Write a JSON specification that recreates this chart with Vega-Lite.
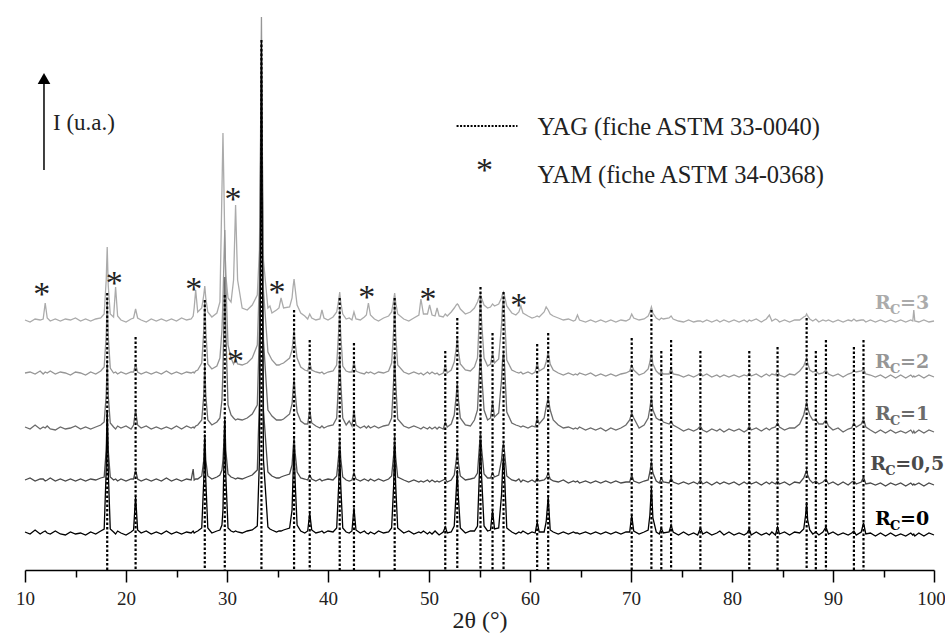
{
"$schema":"https://vega.github.io/schema/vega-lite/v6.json",
"width":909,"height":570,"autosize":"none",
"padding":{"left":25,"top":0,"right":11,"bottom":67},
"config":{"view":{"stroke":null},"font":"Liberation Serif"},
"datasets":{
"spectra":[
{"x":10,"a":38,"b":90,"c":143,"d":197,"e":250},
{"x":10.5,"a":36,"b":92,"c":141,"d":198,"e":248},
{"x":11,"a":40,"b":89,"c":145,"d":196,"e":251},
{"x":11.5,"a":36,"b":91,"c":141,"d":199,"e":250},
{"x":11.8,"a":38,"b":91,"c":143,"d":196,"e":251},
{"x":12,"a":39,"b":89,"c":142,"d":198,"e":267},
{"x":12.2,"a":37,"b":90,"c":144,"d":197,"e":252},
{"x":12.5,"a":36,"b":92,"c":141,"d":199,"e":249},
{"x":13,"a":39,"b":89,"c":140,"d":196,"e":251},
{"x":13.5,"a":36,"b":91,"c":143,"d":198,"e":249},
{"x":14,"a":35,"b":89,"c":141,"d":197,"e":251},
{"x":14.5,"a":38,"b":91,"c":142,"d":195,"e":250},
{"x":15,"a":36,"b":89,"c":144,"d":198,"e":252},
{"x":15.5,"a":37,"b":91,"c":141,"d":197,"e":249},
{"x":16,"a":35,"b":89,"c":143,"d":195,"e":251},
{"x":16.5,"a":38,"b":91,"c":141,"d":198,"e":249},
{"x":17,"a":36,"b":90,"c":143,"d":196,"e":251},
{"x":17.5,"a":39,"b":92,"c":145,"d":199,"e":252},
{"x":17.84,"a":41,"b":93,"c":148,"d":203,"e":256},
{"x":18.04,"a":100,"b":120,"c":175,"d":235,"e":290},
{"x":18.14,"a":160,"b":160,"c":210,"d":270,"e":323},
{"x":18.24,"a":100,"b":120,"c":175,"d":235,"e":285},
{"x":18.44,"a":41,"b":93,"c":147,"d":202,"e":256},
{"x":18.77,"a":38,"b":90,"c":143,"d":197,"e":253},
{"x":18.97,"a":36,"b":91,"c":141,"d":198,"e":283},
{"x":19.17,"a":39,"b":89,"c":144,"d":196,"e":254},
{"x":19.5,"a":37,"b":91,"c":142,"d":198,"e":250},
{"x":20,"a":35,"b":89,"c":144,"d":196,"e":248},
{"x":20.5,"a":38,"b":91,"c":141,"d":198,"e":251},
{"x":20.75,"a":40,"b":91,"c":145,"d":198,"e":252},
{"x":20.95,"a":74,"b":100,"c":160,"d":206,"e":261},
{"x":21.15,"a":40,"b":91,"c":145,"d":198,"e":252},
{"x":21.5,"a":37,"b":89,"c":142,"d":196,"e":250},
{"x":22,"a":39,"b":91,"c":144,"d":198,"e":248},
{"x":22.5,"a":36,"b":89,"c":141,"d":196,"e":251},
{"x":23,"a":38,"b":91,"c":143,"d":198,"e":249},
{"x":23.5,"a":36,"b":89,"c":141,"d":196,"e":251},
{"x":24,"a":39,"b":92,"c":143,"d":199,"e":249},
{"x":24.5,"a":36,"b":89,"c":141,"d":196,"e":251},
{"x":25,"a":38,"b":91,"c":144,"d":198,"e":249},
{"x":25.5,"a":36,"b":89,"c":141,"d":196,"e":252},
{"x":26,"a":38,"b":91,"c":144,"d":198,"e":250},
{"x":26.45,"a":37,"b":90,"c":142,"d":197,"e":251},
{"x":26.65,"a":39,"b":101,"c":143,"d":198,"e":254},
{"x":26.75,"a":37,"b":90,"c":142,"d":197,"e":262},
{"x":26.9,"a":38,"b":91,"c":144,"d":199,"e":280},
{"x":27.1,"a":39,"b":91,"c":145,"d":200,"e":258},
{"x":27.5,"a":42,"b":94,"c":150,"d":207,"e":262},
{"x":27.7,"a":90,"b":110,"c":175,"d":240,"e":275},
{"x":27.8,"a":132,"b":136,"c":205,"d":270,"e":284},
{"x":27.9,"a":90,"b":110,"c":175,"d":240,"e":272},
{"x":28.1,"a":42,"b":94,"c":150,"d":206,"e":258},
{"x":28.5,"a":37,"b":91,"c":145,"d":201,"e":253},
{"x":29,"a":39,"b":93,"c":148,"d":204,"e":257},
{"x":29.3,"a":40,"b":95,"c":152,"d":212,"e":268},
{"x":29.5,"a":45,"b":100,"c":170,"d":240,"e":380},
{"x":29.6,"a":60,"b":110,"c":200,"d":270,"e":437},
{"x":29.7,"a":110,"b":130,"c":250,"d":310,"e":380},
{"x":29.78,"a":150,"b":153,"c":293,"d":340,"e":330},
{"x":29.88,"a":95,"b":120,"c":240,"d":290,"e":295},
{"x":30.1,"a":42,"b":96,"c":165,"d":225,"e":272},
{"x":30.4,"a":39,"b":93,"c":155,"d":212,"e":268},
{"x":30.65,"a":38,"b":92,"c":152,"d":206,"e":290},
{"x":30.85,"a":39,"b":91,"c":150,"d":211,"e":365},
{"x":31.05,"a":38,"b":92,"c":151,"d":206,"e":290},
{"x":31.5,"a":37,"b":91,"c":150,"d":205,"e":262},
{"x":32,"a":39,"b":93,"c":152,"d":207,"e":260},
{"x":32.5,"a":40,"b":95,"c":156,"d":212,"e":265},
{"x":33,"a":44,"b":100,"c":165,"d":225,"e":275},
{"x":33.21,"a":110,"b":170,"c":240,"d":290,"e":320},
{"x":33.31,"a":300,"b":320,"c":380,"d":420,"e":410},
{"x":33.41,"a":528,"b":490,"c":525,"d":553,"e":510},
{"x":33.51,"a":300,"b":310,"c":370,"d":410,"e":400},
{"x":33.61,"a":110,"b":160,"c":230,"d":280,"e":310},
{"x":34.05,"a":43,"b":98,"c":160,"d":218,"e":262},
{"x":34.25,"a":41,"b":96,"c":157,"d":214,"e":264},
{"x":34.45,"a":40,"b":94,"c":154,"d":210,"e":257},
{"x":34.9,"a":38,"b":92,"c":150,"d":205,"e":260},
{"x":35.15,"a":39,"b":92,"c":150,"d":205,"e":262},
{"x":35.35,"a":39,"b":93,"c":150,"d":206,"e":272},
{"x":35.6,"a":40,"b":94,"c":151,"d":207,"e":262},
{"x":36.2,"a":42,"b":96,"c":156,"d":212,"e":263},
{"x":36.44,"a":60,"b":105,"c":166,"d":220,"e":272},
{"x":36.54,"a":95,"b":120,"c":180,"d":230,"e":283},
{"x":36.64,"a":125,"b":133,"c":192,"d":240,"e":291},
{"x":36.74,"a":90,"b":118,"c":178,"d":228,"e":282},
{"x":36.94,"a":45,"b":98,"c":158,"d":212,"e":265},
{"x":37.3,"a":39,"b":92,"c":149,"d":203,"e":257},
{"x":37.7,"a":37,"b":91,"c":146,"d":200,"e":254},
{"x":37.99,"a":39,"b":90,"c":146,"d":199,"e":251},
{"x":38.19,"a":57,"b":95,"c":160,"d":207,"e":256},
{"x":38.39,"a":40,"b":91,"c":147,"d":200,"e":252},
{"x":38.8,"a":37,"b":89,"c":144,"d":198,"e":250},
{"x":39.2,"a":38,"b":91,"c":142,"d":197,"e":251},
{"x":39.4,"a":39,"b":89,"c":144,"d":198,"e":260},
{"x":39.6,"a":37,"b":90,"c":142,"d":196,"e":252},
{"x":40,"a":39,"b":91,"c":144,"d":198,"e":250},
{"x":40.5,"a":38,"b":90,"c":145,"d":199,"e":253},
{"x":40.86,"a":42,"b":94,"c":152,"d":205,"e":258},
{"x":41.06,"a":85,"b":115,"c":190,"d":240,"e":270},
{"x":41.16,"a":120,"b":132,"c":215,"d":260,"e":278},
{"x":41.26,"a":85,"b":112,"c":188,"d":236,"e":268},
{"x":41.46,"a":42,"b":93,"c":152,"d":204,"e":256},
{"x":41.8,"a":38,"b":90,"c":145,"d":199,"e":251},
{"x":42.1,"a":37,"b":89,"c":149,"d":198,"e":252},
{"x":42.37,"a":39,"b":90,"c":144,"d":198,"e":250},
{"x":42.57,"a":62,"b":97,"c":160,"d":208,"e":258},
{"x":42.77,"a":40,"b":91,"c":145,"d":199,"e":251},
{"x":43.2,"a":37,"b":89,"c":142,"d":197,"e":250},
{"x":43.6,"a":39,"b":91,"c":144,"d":196,"e":253},
{"x":43.8,"a":37,"b":90,"c":142,"d":198,"e":255},
{"x":44,"a":36,"b":89,"c":144,"d":197,"e":267},
{"x":44.2,"a":38,"b":91,"c":142,"d":198,"e":255},
{"x":44.6,"a":36,"b":89,"c":144,"d":196,"e":251},
{"x":45,"a":39,"b":91,"c":142,"d":198,"e":249},
{"x":45.5,"a":37,"b":89,"c":144,"d":197,"e":252},
{"x":46,"a":38,"b":91,"c":145,"d":199,"e":254},
{"x":46.3,"a":42,"b":94,"c":152,"d":207,"e":258},
{"x":46.5,"a":85,"b":115,"c":190,"d":240,"e":270},
{"x":46.6,"a":125,"b":135,"c":215,"d":270,"e":277},
{"x":46.7,"a":85,"b":113,"c":188,"d":236,"e":268},
{"x":46.9,"a":42,"b":93,"c":151,"d":205,"e":256},
{"x":47.5,"a":37,"b":90,"c":144,"d":198,"e":251},
{"x":48,"a":39,"b":88,"c":142,"d":196,"e":249},
{"x":48.5,"a":36,"b":90,"c":144,"d":198,"e":252},
{"x":49,"a":38,"b":88,"c":142,"d":196,"e":255},
{"x":49.2,"a":37,"b":89,"c":141,"d":197,"e":271},
{"x":49.45,"a":39,"b":88,"c":143,"d":195,"e":256},
{"x":49.85,"a":36,"b":90,"c":141,"d":198,"e":256},
{"x":50.06,"a":38,"b":88,"c":143,"d":196,"e":265},
{"x":50.3,"a":36,"b":90,"c":141,"d":198,"e":255},
{"x":50.6,"a":39,"b":88,"c":143,"d":196,"e":254},
{"x":50.8,"a":37,"b":89,"c":141,"d":197,"e":262},
{"x":51,"a":35,"b":88,"c":143,"d":195,"e":254},
{"x":51.41,"a":38,"b":90,"c":141,"d":197,"e":253},
{"x":51.61,"a":43,"b":91,"c":148,"d":205,"e":256},
{"x":51.81,"a":37,"b":88,"c":143,"d":197,"e":254},
{"x":52.2,"a":38,"b":90,"c":146,"d":200,"e":258},
{"x":52.5,"a":44,"b":95,"c":155,"d":208,"e":262},
{"x":52.7,"a":80,"b":110,"c":175,"d":222,"e":265},
{"x":52.8,"a":100,"b":120,"c":187,"d":233,"e":266},
{"x":52.9,"a":75,"b":108,"c":172,"d":220,"e":265},
{"x":53.1,"a":42,"b":94,"c":152,"d":206,"e":261},
{"x":53.6,"a":37,"b":90,"c":145,"d":200,"e":256},
{"x":54.1,"a":39,"b":91,"c":144,"d":199,"e":258},
{"x":54.5,"a":39,"b":92,"c":150,"d":203,"e":262},
{"x":54.8,"a":44,"b":97,"c":160,"d":212,"e":268},
{"x":55,"a":100,"b":125,"c":200,"d":255,"e":274},
{"x":55.1,"a":130,"b":138,"c":220,"d":278,"e":275},
{"x":55.2,"a":95,"b":122,"c":198,"d":250,"e":272},
{"x":55.45,"a":44,"b":96,"c":160,"d":212,"e":265},
{"x":55.8,"a":39,"b":92,"c":150,"d":204,"e":262},
{"x":56.09,"a":40,"b":92,"c":152,"d":206,"e":263},
{"x":56.29,"a":60,"b":97,"c":168,"d":217,"e":266},
{"x":56.49,"a":41,"b":93,"c":153,"d":207,"e":264},
{"x":56.9,"a":42,"b":95,"c":157,"d":211,"e":266},
{"x":57.18,"a":75,"b":110,"c":190,"d":245,"e":272},
{"x":57.28,"a":100,"b":122,"c":210,"d":265,"e":276},
{"x":57.38,"a":115,"b":127,"c":218,"d":274,"e":278},
{"x":57.48,"a":95,"b":118,"c":205,"d":255,"e":274},
{"x":57.7,"a":42,"b":94,"c":158,"d":210,"e":264},
{"x":58.2,"a":38,"b":90,"c":147,"d":200,"e":257},
{"x":58.6,"a":36,"b":89,"c":145,"d":198,"e":255},
{"x":58.9,"a":38,"b":91,"c":144,"d":197,"e":258},
{"x":59.1,"a":37,"b":88,"c":143,"d":198,"e":264},
{"x":59.3,"a":39,"b":90,"c":144,"d":196,"e":257},
{"x":59.8,"a":36,"b":88,"c":142,"d":198,"e":254},
{"x":60.2,"a":38,"b":90,"c":144,"d":196,"e":252},
{"x":60.51,"a":37,"b":88,"c":143,"d":198,"e":253},
{"x":60.71,"a":48,"b":92,"c":152,"d":207,"e":254},
{"x":60.91,"a":38,"b":89,"c":146,"d":199,"e":253},
{"x":61.4,"a":38,"b":90,"c":152,"d":202,"e":258},
{"x":61.6,"a":48,"b":92,"c":163,"d":208,"e":263},
{"x":61.8,"a":73,"b":97,"c":172,"d":218,"e":260},
{"x":62,"a":40,"b":91,"c":160,"d":206,"e":256},
{"x":62.3,"a":38,"b":89,"c":150,"d":200,"e":254},
{"x":62.8,"a":36,"b":88,"c":145,"d":197,"e":252},
{"x":63.3,"a":38,"b":90,"c":142,"d":195,"e":250},
{"x":63.8,"a":36,"b":87,"c":143,"d":197,"e":251},
{"x":64.3,"a":38,"b":89,"c":141,"d":195,"e":249},
{"x":64.5,"a":37,"b":88,"c":142,"d":196,"e":250},
{"x":64.7,"a":37,"b":89,"c":141,"d":195,"e":255},
{"x":64.9,"a":36,"b":87,"c":143,"d":197,"e":250},
{"x":65.5,"a":38,"b":89,"c":140,"d":195,"e":248},
{"x":66,"a":36,"b":87,"c":142,"d":197,"e":250},
{"x":66.5,"a":38,"b":89,"c":140,"d":194,"e":248},
{"x":67,"a":36,"b":87,"c":142,"d":196,"e":250},
{"x":67.5,"a":38,"b":89,"c":139,"d":194,"e":248},
{"x":68,"a":36,"b":87,"c":142,"d":196,"e":250},
{"x":68.5,"a":38,"b":89,"c":140,"d":194,"e":248},
{"x":69,"a":36,"b":87,"c":142,"d":196,"e":250},
{"x":69.5,"a":38,"b":88,"c":145,"d":197,"e":249},
{"x":69.87,"a":38,"b":88,"c":150,"d":199,"e":251},
{"x":70.07,"a":55,"b":95,"c":157,"d":205,"e":256},
{"x":70.27,"a":39,"b":89,"c":152,"d":200,"e":252},
{"x":70.8,"a":36,"b":87,"c":142,"d":195,"e":250},
{"x":71.3,"a":38,"b":89,"c":145,"d":197,"e":251},
{"x":71.7,"a":40,"b":90,"c":152,"d":201,"e":254},
{"x":71.87,"a":55,"b":98,"c":162,"d":208,"e":258},
{"x":72.02,"a":83,"b":109,"c":173,"d":218,"e":263},
{"x":72.17,"a":52,"b":97,"c":160,"d":206,"e":257},
{"x":72.5,"a":38,"b":89,"c":152,"d":199,"e":252},
{"x":72.8,"a":36,"b":87,"c":150,"d":196,"e":250},
{"x":73,"a":42,"b":92,"c":151,"d":198,"e":252},
{"x":73.2,"a":37,"b":88,"c":148,"d":196,"e":251},
{"x":73.77,"a":38,"b":87,"c":146,"d":196,"e":252},
{"x":73.97,"a":45,"b":92,"c":149,"d":202,"e":254},
{"x":74.17,"a":38,"b":88,"c":145,"d":196,"e":251},
{"x":74.7,"a":35,"b":86,"c":142,"d":195,"e":249},
{"x":75.2,"a":38,"b":88,"c":139,"d":193,"e":248},
{"x":75.7,"a":35,"b":86,"c":141,"d":195,"e":250},
{"x":76.2,"a":37,"b":88,"c":139,"d":193,"e":248},
{"x":76.6,"a":35,"b":86,"c":141,"d":195,"e":249},
{"x":76.87,"a":42,"b":90,"c":144,"d":197,"e":249},
{"x":77.1,"a":36,"b":86,"c":140,"d":194,"e":248},
{"x":77.5,"a":38,"b":88,"c":138,"d":196,"e":250},
{"x":78,"a":35,"b":85,"c":141,"d":193,"e":248},
{"x":78.5,"a":37,"b":88,"c":139,"d":195,"e":250},
{"x":78.8,"a":39,"b":86,"c":141,"d":193,"e":248},
{"x":79.2,"a":35,"b":88,"c":138,"d":195,"e":250},
{"x":79.7,"a":38,"b":86,"c":141,"d":193,"e":248},
{"x":80.2,"a":35,"b":88,"c":139,"d":195,"e":250},
{"x":80.7,"a":37,"b":85,"c":141,"d":193,"e":248},
{"x":81.2,"a":35,"b":88,"c":138,"d":195,"e":250},
{"x":81.5,"a":37,"b":86,"c":140,"d":194,"e":248},
{"x":81.71,"a":41,"b":88,"c":144,"d":197,"e":250},
{"x":81.9,"a":35,"b":86,"c":140,"d":194,"e":249},
{"x":82.4,"a":38,"b":88,"c":142,"d":196,"e":251},
{"x":82.9,"a":35,"b":85,"c":139,"d":193,"e":248},
{"x":83.4,"a":37,"b":88,"c":142,"d":196,"e":251},
{"x":83.7,"a":35,"b":86,"c":140,"d":194,"e":255},
{"x":83.95,"a":38,"b":88,"c":142,"d":196,"e":249},
{"x":84.3,"a":35,"b":86,"c":143,"d":195,"e":251},
{"x":84.51,"a":43,"b":89,"c":147,"d":199,"e":250},
{"x":84.7,"a":36,"b":86,"c":143,"d":195,"e":248},
{"x":85.2,"a":38,"b":88,"c":140,"d":193,"e":250},
{"x":85.7,"a":35,"b":85,"c":142,"d":196,"e":248},
{"x":86.2,"a":38,"b":88,"c":142,"d":195,"e":250},
{"x":86.7,"a":37,"b":87,"c":146,"d":199,"e":250},
{"x":87.1,"a":41,"b":92,"c":155,"d":204,"e":253},
{"x":87.29,"a":55,"b":97,"c":163,"d":209,"e":254},
{"x":87.39,"a":68,"b":100,"c":168,"d":212,"e":256},
{"x":87.49,"a":50,"b":95,"c":162,"d":207,"e":254},
{"x":87.7,"a":40,"b":90,"c":155,"d":200,"e":251},
{"x":88,"a":36,"b":87,"c":150,"d":198,"e":249},
{"x":88.3,"a":38,"b":89,"c":150,"d":199,"e":251},
{"x":88.6,"a":35,"b":86,"c":146,"d":196,"e":248},
{"x":89,"a":38,"b":88,"c":146,"d":197,"e":250},
{"x":89.3,"a":43,"b":91,"c":150,"d":200,"e":249},
{"x":89.55,"a":36,"b":86,"c":144,"d":196,"e":250},
{"x":90,"a":38,"b":88,"c":140,"d":194,"e":248},
{"x":90.5,"a":35,"b":85,"c":142,"d":196,"e":250},
{"x":91,"a":37,"b":88,"c":138,"d":193,"e":248},
{"x":91.5,"a":35,"b":85,"c":141,"d":196,"e":250},
{"x":91.85,"a":37,"b":88,"c":142,"d":197,"e":249},
{"x":92.07,"a":39,"b":89,"c":147,"d":199,"e":251},
{"x":92.3,"a":35,"b":86,"c":143,"d":198,"e":249},
{"x":92.8,"a":38,"b":88,"c":146,"d":199,"e":250},
{"x":93.02,"a":47,"b":93,"c":151,"d":201,"e":250},
{"x":93.25,"a":36,"b":86,"c":143,"d":196,"e":248},
{"x":93.7,"a":37,"b":87,"c":140,"d":195,"e":250},
{"x":94.2,"a":34,"b":85,"c":137,"d":193,"e":248},
{"x":94.7,"a":37,"b":87,"c":140,"d":195,"e":250},
{"x":95.2,"a":34,"b":84,"c":137,"d":192,"e":248},
{"x":95.7,"a":37,"b":87,"c":140,"d":195,"e":250},
{"x":96.2,"a":34,"b":85,"c":137,"d":192,"e":248},
{"x":96.7,"a":36,"b":87,"c":139,"d":195,"e":250},
{"x":97.2,"a":34,"b":84,"c":137,"d":192,"e":248},
{"x":97.7,"a":37,"b":87,"c":140,"d":195,"e":250},
{"x":97.9,"a":35,"b":85,"c":137,"d":193,"e":249},
{"x":98,"a":36,"b":86,"c":139,"d":194,"e":260},
{"x":98.1,"a":34,"b":85,"c":137,"d":193,"e":249},
{"x":98.5,"a":37,"b":87,"c":140,"d":195,"e":248},
{"x":99,"a":34,"b":84,"c":137,"d":192,"e":250},
{"x":99.5,"a":37,"b":87,"c":140,"d":195,"e":248},
{"x":100,"a":35,"b":85,"c":138,"d":193,"e":249}
],
"yag":[
{"x":18.14,"top":277},{"x":20.95,"top":233},{"x":27.8,"top":270},{"x":29.78,"top":275},{"x":33.41,"top":530},
{"x":36.64,"top":260},{"x":38.19,"top":230},{"x":41.16,"top":272},{"x":42.57,"top":227},{"x":46.6,"top":272},
{"x":51.61,"top":219},{"x":52.8,"top":252},{"x":55.1,"top":283},{"x":56.29,"top":237},{"x":57.38,"top":278},
{"x":60.71,"top":226},{"x":61.8,"top":237},{"x":70.07,"top":232},{"x":72.02,"top":260},{"x":73.0,"top":219},
{"x":73.97,"top":230},{"x":76.87,"top":219},{"x":81.71,"top":219},{"x":84.51,"top":223},{"x":87.39,"top":252},
{"x":88.3,"top":219},{"x":89.3,"top":230},{"x":92.07,"top":223},{"x":93.02,"top":230}
],
"yam":[
{"x":11.65,"y":283},{"x":18.83,"y":294},{"x":26.72,"y":288},{"x":30.6,"y":378},{"x":30.84,"y":216},
{"x":34.96,"y":285},{"x":43.83,"y":280},{"x":49.89,"y":278},{"x":58.89,"y":272},{"x":55.5,"y":407}
],
"labels":[
{"x":94.17,"y":261,"s":"e","lab":"=3"},
{"x":94.17,"y":202,"s":"d","lab":"=2"},
{"x":94.17,"y":150,"s":"c","lab":"=1"},
{"x":93.68,"y":100,"s":"b","lab":"=0,5"},
{"x":94.17,"y":45,"s":"a","lab":"=0"}
],
"legtext":[
{"x":60.74,"y":435,"t":"YAG (fiche ASTM 33-0040)"},
{"x":60.74,"y":387,"t":"YAM (fiche ASTM 34-0368)"}
],
"ylab":[{"x":12.77,"y":440,"t":"I (u.a.)"}],
"legline":[{"x":52.73,"x2":58.76,"y":444}],
"arrowline":[{"x":11.88,"y":400,"y2":486}],
"arrowhead":[{"x":11.88,"y":491.5}]
},
"encoding":{
"x":{"field":"x","type":"quantitative","scale":{"domain":[10,100],"nice":false,"zero":false},
"axis":{"title":"2θ (°)","values":[10,15,20,25,30,35,40,45,50,55,60,65,70,75,80,85,90,95,100],
"labelExpr":"datum.value % 10 === 0 ? datum.label : ''",
"tickSize":{"condition":{"test":"datum.value % 10 === 0","value":12},"value":7},
"labelOffset":{"condition":{"test":"datum.value === 100","value":-3},"value":0},
"domainColor":"#000","domainWidth":1.5,"tickColor":"#000","tickWidth":1.5,"grid":false,
"labelFont":"Liberation Serif","labelFontSize":19,"labelColor":"#222","labelPadding":7,"labelFlush":false,"labelOverlap":false,
"titleFont":"Liberation Serif","titleFontSize":24,"titleFontWeight":"normal","titleColor":"#222","titlePadding":0}}
},
"layer":[
{"data":{"name":"spectra"},
"transform":[{"fold":["e","d","c","b","a"],"as":["s","v"]}],
"mark":{"type":"line","strokeWidth":1.3},
"encoding":{
"y":{"field":"v","type":"quantitative","scale":{"domain":[0,570],"nice":false,"zero":true},"axis":null},
"color":{"field":"s","type":"nominal","scale":{"domain":["a","b","c","d","e"],"range":["#000000","#4a4a4a","#6b6b6b","#969696","#ababab"]},"legend":null}}},
{"data":{"name":"yag"},
"mark":{"type":"rule","strokeDash":[2.5,2],"strokeWidth":2.2,"color":"#000"},
"encoding":{"y":{"field":"top","type":"quantitative","scale":{"domain":[0,570]},"axis":null},"y2":{"datum":0}}},
{"data":{"name":"yam"},
"mark":{"type":"text","text":"*","fontSize":34,"baseline":"middle","dy":8,"font":"Liberation Serif","color":"#222"},
"encoding":{"y":{"field":"y","type":"quantitative","scale":{"domain":[0,570]},"axis":null}}},
{"data":{"name":"labels"},
"mark":{"type":"text","text":"R","font":"DejaVu Serif","fontWeight":"bold","fontSize":19,"align":"left","baseline":"alphabetic"},
"encoding":{"y":{"field":"y","type":"quantitative","scale":{"domain":[0,570]},"axis":null},
"color":{"field":"s","type":"nominal","legend":null}}},
{"data":{"name":"labels"},
"mark":{"type":"text","text":"C","font":"DejaVu Serif","fontWeight":"bold","fontSize":13,"align":"left","baseline":"alphabetic","dx":15,"dy":5},
"encoding":{"y":{"field":"y","type":"quantitative","scale":{"domain":[0,570]},"axis":null},
"color":{"field":"s","type":"nominal","legend":null}}},
{"data":{"name":"labels"},
"mark":{"type":"text","font":"DejaVu Serif","fontWeight":"bold","fontSize":19,"align":"left","baseline":"alphabetic","dx":25},
"encoding":{"y":{"field":"y","type":"quantitative","scale":{"domain":[0,570]},"axis":null},
"text":{"field":"lab","type":"nominal"},
"color":{"field":"s","type":"nominal","legend":null}}},
{"data":{"name":"legtext"},
"mark":{"type":"text","font":"Liberation Serif","fontSize":24.5,"align":"left","baseline":"alphabetic","color":"#222"},
"encoding":{"y":{"field":"y","type":"quantitative","scale":{"domain":[0,570]},"axis":null},
"text":{"field":"t","type":"nominal"}}},
{"data":{"name":"ylab"},
"mark":{"type":"text","font":"Liberation Serif","fontSize":23,"align":"left","baseline":"alphabetic","color":"#222"},
"encoding":{"y":{"field":"y","type":"quantitative","scale":{"domain":[0,570]},"axis":null},
"text":{"field":"t","type":"nominal"}}},
{"data":{"name":"legline"},
"mark":{"type":"rule","strokeDash":[2,1.5],"strokeWidth":2,"color":"#000"},
"encoding":{"x2":{"field":"x2"},"y":{"field":"y","type":"quantitative","scale":{"domain":[0,570]},"axis":null}}},
{"data":{"name":"arrowline"},
"mark":{"type":"rule","strokeWidth":1.5,"color":"#000"},
"encoding":{"y":{"field":"y","type":"quantitative","scale":{"domain":[0,570]},"axis":null},"y2":{"field":"y2"}}},
{"data":{"name":"arrowhead"},
"mark":{"type":"point","shape":"triangle-up","size":160,"filled":true,"opacity":1,"color":"#000"},
"encoding":{"y":{"field":"y","type":"quantitative","scale":{"domain":[0,570]},"axis":null}}}
]
}
